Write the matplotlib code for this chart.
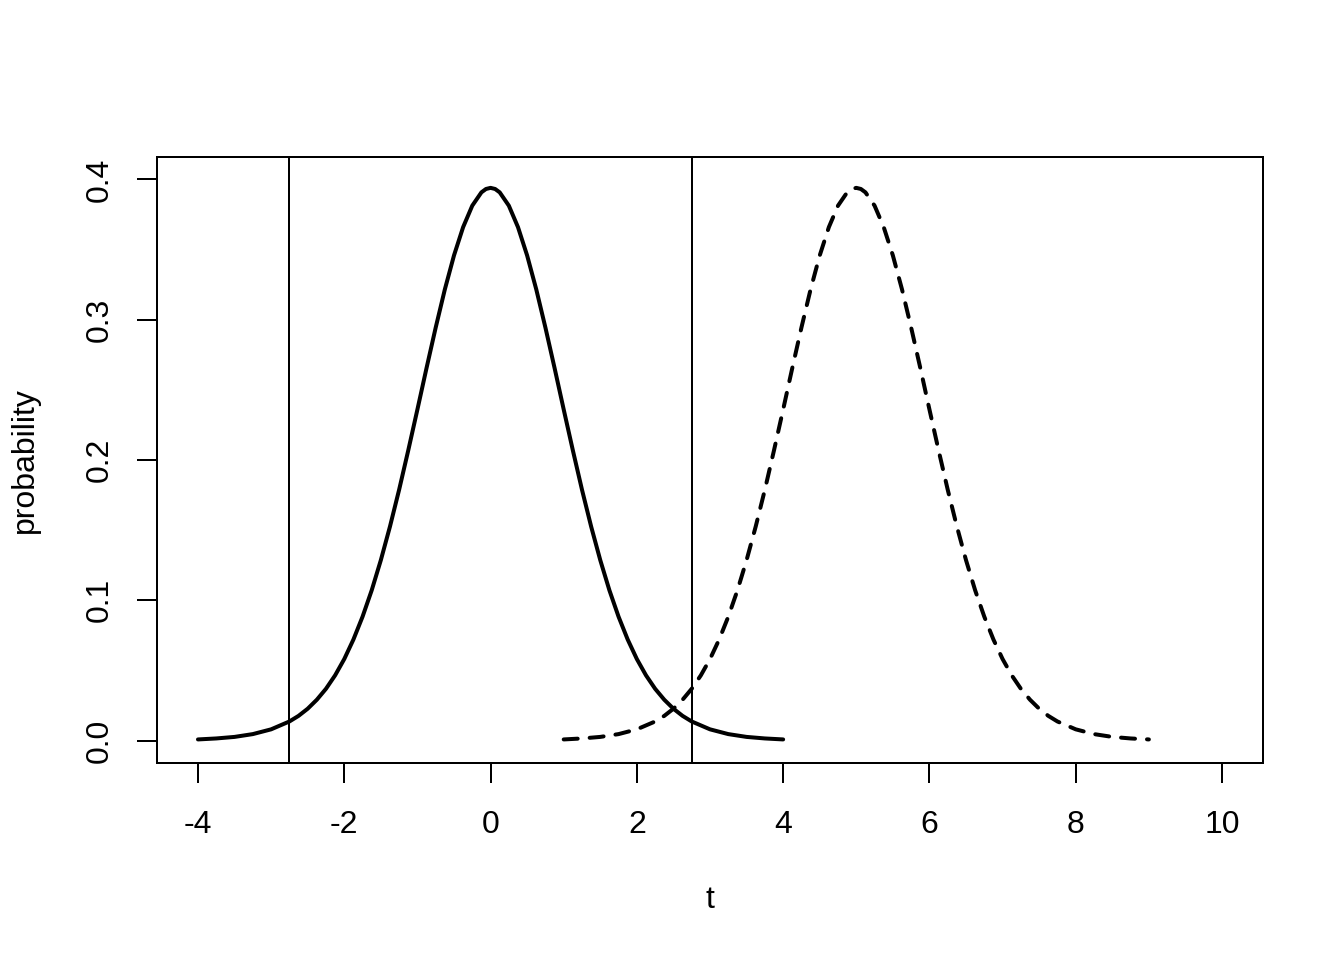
import matplotlib
matplotlib.use("Agg")
import matplotlib.pyplot as plt

plt.rcParams['font.family'] = ['Liberation Sans', 'DejaVu Sans']

# values
t_null = [-4.0, -3.75, -3.5, -3.25, -3.0, -2.75, -2.625, -2.5, -2.375, -2.25, -2.125,
          -2.0, -1.875, -1.75, -1.625, -1.5, -1.375,
          -1.25, -1.125, -1.0, -0.875, -0.75, -0.625, -0.5, -0.375, -0.25, -0.125, -0.0625,
          0.0, 0.0625, 0.125, 0.25, 0.375, 0.5, 0.625, 0.75, 0.875, 1.0, 1.125, 1.25,
          1.375, 1.5, 1.625, 1.75, 1.875, 2.0, 2.125, 2.25, 2.375, 2.5, 2.625, 2.75,
          3.0, 3.25, 3.5, 3.75, 4.0]
p_null = [0.0008, 0.0015, 0.0026, 0.0046, 0.0080, 0.0136, 0.0176, 0.0227, 0.0291, 0.0369, 0.0465,
          0.0581, 0.0720, 0.0883, 0.1071, 0.1286, 0.1526,
          0.1788, 0.2069, 0.2360, 0.2656, 0.2944, 0.3216, 0.3458, 0.3660, 0.3813, 0.3908, 0.3932,
          0.3940, 0.3932, 0.3908, 0.3813, 0.3660, 0.3458, 0.3216, 0.2944, 0.2656, 0.2360, 0.2069, 0.1788,
          0.1526, 0.1286, 0.1071, 0.0883, 0.0720, 0.0581, 0.0465, 0.0369, 0.0291, 0.0227, 0.0176, 0.0136,
          0.0080, 0.0046, 0.0026, 0.0015, 0.0008]

t_alt = [1.0, 1.25, 1.5, 1.75, 2.0, 2.25, 2.375, 2.5, 2.625, 2.75, 2.875,
         3.0, 3.125, 3.25, 3.375, 3.5, 3.625,
         3.75, 3.875, 4.0, 4.125, 4.25, 4.375, 4.5, 4.625, 4.75, 4.875, 4.9375,
         5.0, 5.0625, 5.125, 5.25, 5.375, 5.5, 5.625, 5.75, 5.875, 6.0, 6.125, 6.25,
         6.375, 6.5, 6.625, 6.75, 6.875, 7.0, 7.125, 7.25, 7.375, 7.5, 7.625, 7.75,
         8.0, 8.25, 8.5, 8.75, 9.0]
p_alt = [0.0008, 0.0015, 0.0026, 0.0046, 0.0080, 0.0136, 0.0176, 0.0227, 0.0291, 0.0369, 0.0465,
         0.0581, 0.0720, 0.0883, 0.1071, 0.1286, 0.1526,
         0.1788, 0.2069, 0.2360, 0.2656, 0.2944, 0.3216, 0.3458, 0.3660, 0.3813, 0.3908, 0.3932,
         0.3940, 0.3932, 0.3908, 0.3813, 0.3660, 0.3458, 0.3216, 0.2944, 0.2656, 0.2360, 0.2069, 0.1788,
         0.1526, 0.1286, 0.1071, 0.0883, 0.0720, 0.0581, 0.0465, 0.0369, 0.0291, 0.0227, 0.0176, 0.0136,
         0.0080, 0.0046, 0.0026, 0.0015, 0.0008]

critical = [-2.755, 2.755]

x_ticks = [-4, -2, 0, 2, 4, 6, 8, 10]
y_ticks = [0.0, 0.1, 0.2, 0.3, 0.4]
y_ticklabels = ["0.0", "0.1", "0.2", "0.3", "0.4"]

fig = plt.figure(figsize=(7, 5), dpi=192)
ax = fig.add_axes([157/1344, 1 - 763/960, (1263-157)/1344, (763-157)/960])

ax.plot(t_null, p_null, color='black', lw=1.5, solid_capstyle='round', solid_joinstyle='round')
ax.plot(t_alt, p_alt, color='black', lw=1.5, dashes=(3.5, 3), dash_capstyle='round',
        dash_joinstyle='round')
for c in critical:
    ax.axvline(c, color='black', lw=0.75)

ax.set_xlim(-4.56, 10.56)
ax.set_ylim(-0.016, 0.416)
ax.set_xticks(x_ticks)
ax.set_xticklabels([str(v) for v in x_ticks])
ax.set_yticks(y_ticks)
ax.set_yticklabels(y_ticklabels, rotation=90, va='center')
ax.tick_params(direction='out', length=7.5, width=0.75, labelsize=12)
ax.tick_params(axis='x', pad=10.25)
ax.tick_params(axis='y', pad=8.5)
for s in ax.spines.values():
    s.set_linewidth(0.75)

fig.text(710/1344, 1 - 900/960, "t", ha='center', va='center', fontsize=12)
fig.text(25/1344, 1 - 460/960, "probability", ha='center', va='center', rotation=90, fontsize=12)

fig.savefig("out.png", dpi=192)
